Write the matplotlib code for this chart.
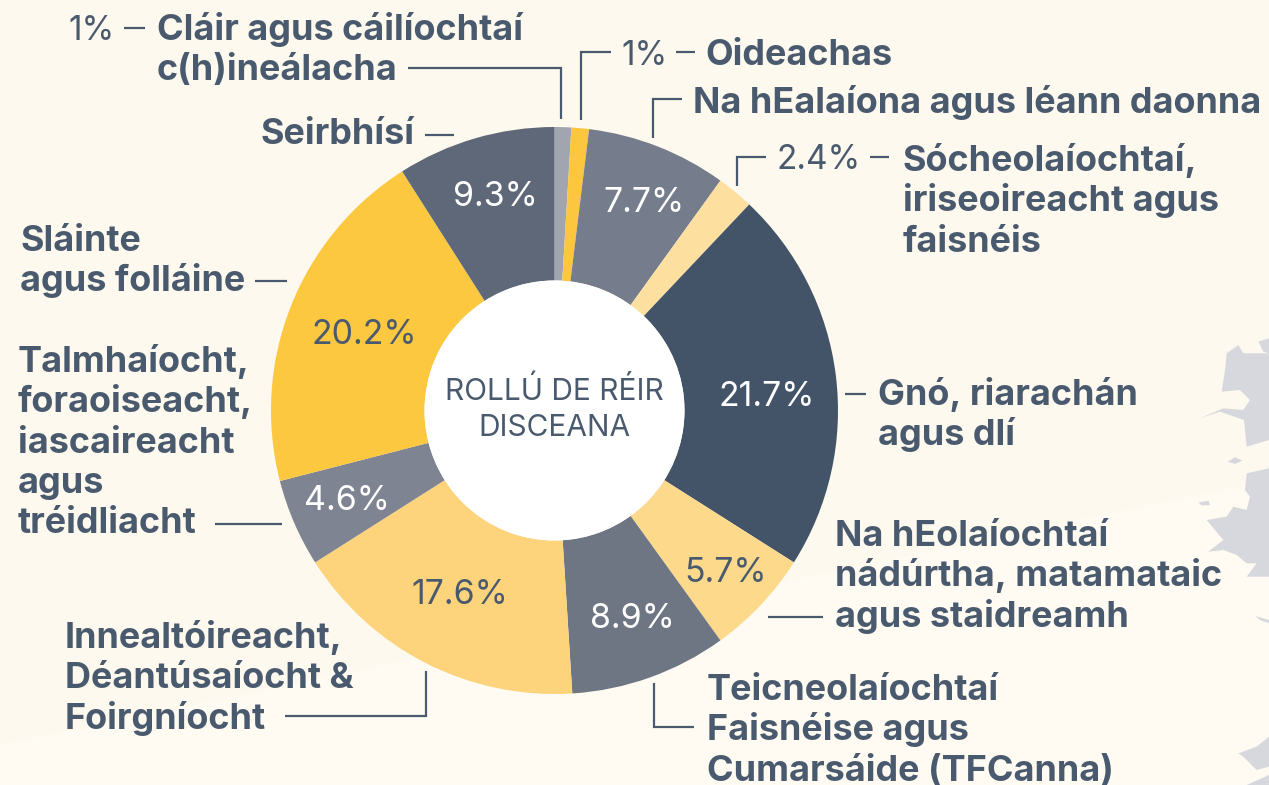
#!/usr/bin/env python3
"""
Donut chart of enrolment by discipline, with Irish labels
"""
import matplotlib.pyplot as plt
from matplotlib.patches import Circle, Polygon

plt.rcParams['font.family'] = ['Inter', 'DejaVu Sans']

# Slice sizes clockwise from 12 o'clock, as measured from the drawn arcs
# (they differ a little from the printed percentages)
shares = [0.95, 1.0, 8.0, 2.1, 21.95, 6.05, 8.95, 17.0, 5.0, 19.97, 9.03]
value_labels = ['', '', '7.7%', '', '21.7%', '5.7%', '8.9%', '17.6%', '4.6%', '20.2%', '9.3%']
colors = ['#A1A5AF', '#FCC73F', '#757C8B', '#FDDF9F', '#445468', '#FDD98C',
          '#6E7684', '#FDD47C', '#7E8492', '#FCC840', '#5F6878']
label_colors = [None, None, 'white', None, 'white', '#4A5A6E', 'white',
                '#4A5A6E', 'white', '#4A5A6E', 'white']
center_text = 'ROLLÚ DE RÉIR\nDISCEANA'

DARK = '#4A5A6E'

# Everything below is placed in reference pixels (y from the top)
W, H = 1269, 785
fig = plt.figure(figsize=(W / 100, H / 100), dpi=100)
ax = fig.add_axes([0, 0, 1, 1])
ax.set_xlim(0, W)
ax.set_ylim(H, 0)
ax.axis('off')
fig.patch.set_facecolor('#FEF9EE')
ax.add_patch(Polygon([(0, 785), (0, 745), (1269, 480), (1269, 785)],
                     facecolor='#FFFBF2', edgecolor='none', zorder=0))

# Faint map of the west coast in the background (zoom-crop coordinates)
coast = [
    [(507, 55), (475, 65), (490, 95), (507, 100)],
    [(380, 100), (415, 75), (430, 100), (455, 100), (507, 100), (507, 360),
     (440, 380), (432, 300), (360, 275), (300, 295), (370, 265), (430, 270),
     (450, 240), (420, 210), (365, 215), (375, 150)],
    [(440, 460), (507, 445), (507, 770), (440, 770), (470, 730), (440, 730),
     (410, 705), (370, 690), (325, 695), (370, 660), (320, 600), (380, 590),
     (400, 560), (440, 570), (450, 530), (435, 510)],
    [(383, 425), (405, 412), (427, 422), (405, 432)],
    [(295, 548), (325, 542), (330, 555), (305, 556)],
    [(415, 1300), (470, 1280), (507, 1250), (507, 1340), (470, 1350), (430, 1310)],
    [(440, 1395), (507, 1365), (507, 1395)],
    [(465, 888), (507, 900), (507, 910), (480, 900)],
]
for shape in coast:
    ax.add_patch(Polygon([(1100 + x / 3, 320 + y / 3) for x, y in shape],
                         facecolor='#D6D8DE', edgecolor='none', zorder=0))

# The y axis is flipped, so counterclock=True runs clockwise on screen
ax.pie(shares, colors=colors, startangle=-90, counterclock=True, normalize=True,
       center=(554.5, 410.5), radius=283.5, frame=False,
       wedgeprops={'width': 283.5 - 130, 'edgecolor': 'none'})
ax.set_xlim(0, W)
ax.set_ylim(H, 0)
ax.set_aspect('auto')
ax.add_patch(Circle((554.5, 410.5), 130, facecolor='white', edgecolor='none', zorder=3))

value_pos = [None, None, (644, 200), None, (766.5, 394), (726, 570), (632, 616),
             (459.5, 592), (346.5, 497), (364.5, 331), (495, 193)]
for text, pos, col in zip(value_labels, value_pos, label_colors):
    if text:
        ax.text(pos[0], pos[1], text, color=col, fontsize=24.4, ha='center',
                va='center_baseline', zorder=4)

ax.text(554.5, 409, center_text, color=DARK, fontsize=21.5, ha='center',
        va='center', linespacing=1.38, multialignment='center', zorder=4)

# Outer labels: left edge, baseline of first line, weight, lines
outer = [
    (157, 40, 'bold', ['Cláir agus cáilíochtaí']),
    (157, 80, 'bold', ['c(h)ineálacha']),
    (68, 40, 'normal', ['1%']),
    (621, 65, 'normal', ['1%']),
    (705.5, 65, 'bold', ['Oideachas']),
    (693, 113, 'bold', ['Na hEalaíona agus léann daonna']),
    (776.5, 169, 'normal', ['2.4%']),
    (903, 171, 'bold', ['Sócheolaíochtaí,', 'iriseoireacht agus', 'faisnéis']),
    (878.5, 405, 'bold', ['Gnó, riarachán', 'agus dlí']),
    (835, 546, 'bold', ['Na hEolaíochtaí', 'nádúrtha, matamataic', 'agus staidreamh']),
    (707, 700, 'bold', ['Teicneolaíochtaí', 'Faisnéise agus', 'Cumarsáide (TFCanna)']),
    (65, 648, 'bold', ['Innealtóireacht,', 'Déantúsaíocht &', 'Foirgníocht']),
    (18, 372, 'bold', ['Talmhaíocht,', 'foraoiseacht,', 'iascaireacht', 'agus', 'tréidliacht']),
    (20, 251, 'bold', ['Sláinte', 'agus folláine']),
    (260, 144, 'bold', ['Seirbhísí']),
]
for x, y, weight, lines in outer:
    size = 25.9 if weight == 'bold' else 24
    for i, line in enumerate(lines):
        ax.text(x, y + i * 40.3, line, color=DARK, fontsize=size, fontweight=weight,
                ha='left', va='baseline')

# Leader lines
leaders = [
    [(124, 28), (145, 28)],
    [(408, 68), (561, 68), (561, 119)],
    [(581, 120), (581, 52), (611, 52)],
    [(676, 52), (695, 52)],
    [(653, 138), (653, 99), (682, 99)],
    [(737, 186), (737, 157), (766, 157)],
    [(870, 157), (889, 157)],
    [(845, 394), (866, 394)],
    [(768, 617), (823, 617)],
    [(654, 683), (654, 727), (694, 727)],
    [(426, 671), (426, 716), (285, 716)],
    [(215, 524), (282, 524)],
    [(255, 281), (287, 281)],
    [(425, 135), (454, 135)],
]
for path in leaders:
    ax.plot([p[0] for p in path], [p[1] for p in path], color=DARK, lw=1.6,
            solid_joinstyle='miter', solid_capstyle='butt')

fig.savefig('out.png', dpi=100, facecolor=fig.get_facecolor())
